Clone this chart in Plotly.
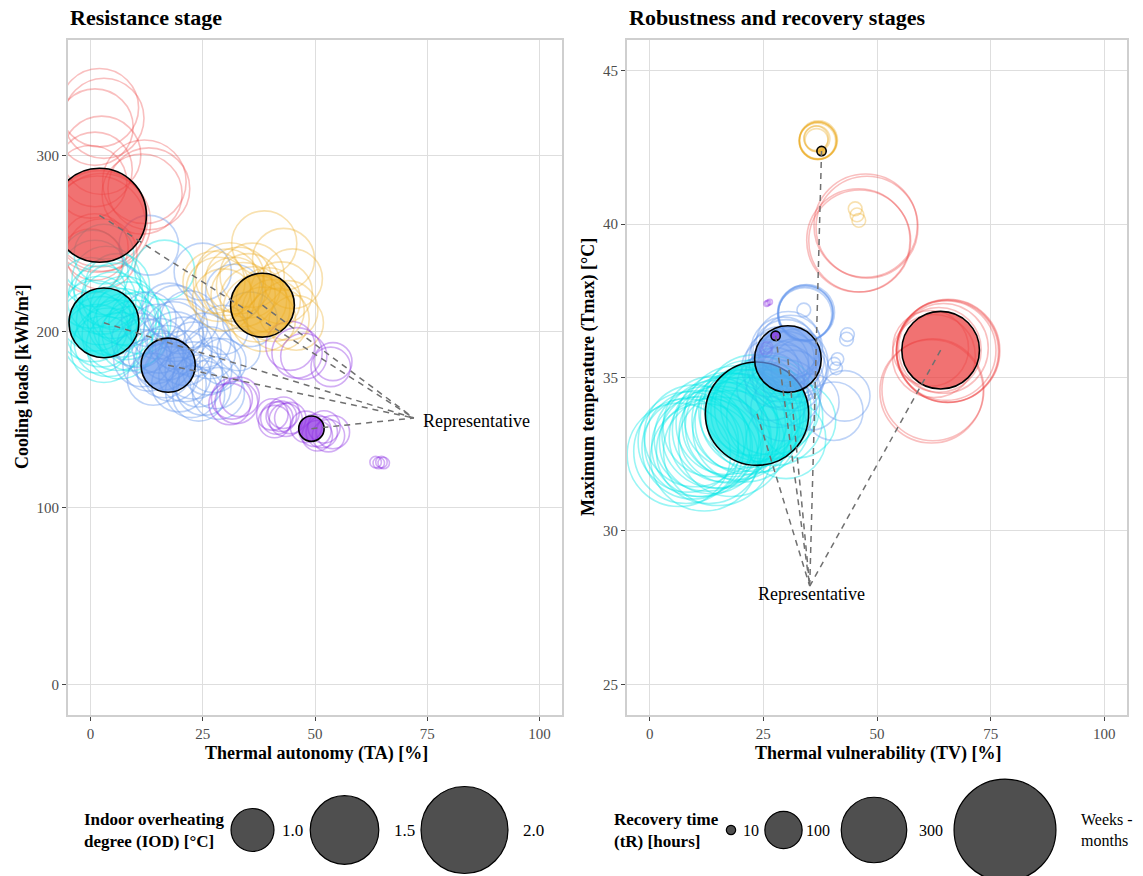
import math
import plotly.graph_objects as go

W, H = 1143, 876
FONT = "Liberation Serif"

# ---------------- data ----------------
# Resistance stage: (thermal autonomy TA %, cooling loads kWh/m2, IOD degC)
res_rep = {
    "red": (2.0, 266, 2.22),
    "cyan": (3.0, 205, 1.53),
    "blue": (17.3, 181, 1.19),
    "orange": (38.3, 215, 1.39),
    "purple": (49.2, 145, 0.79),
}
res_red = [(2.0, 327, 1.75), (3.0, 321, 1.80), (1.0, 316, 1.70), (2.5, 300, 1.75),
           (1.0, 292, 1.65), (0.0, 285, 1.60), (12.0, 285, 1.90), (13.0, 281, 1.85),
           (11.5, 278, 1.80), (2.0, 264, 2.30), (2.5, 262, 2.35), (1.5, 261, 2.30),
           (1.0, 248, 1.45), (2.5, 244, 1.55), (0.0, 240, 1.40)]
res_cyan = [(1.0, 233, 1.45), (3.5, 229, 1.50), (6.0, 226, 1.40), (0.0, 222, 1.55),
            (2.5, 218, 1.50), (5.0, 215, 1.45), (7.5, 212, 1.50), (1.0, 209, 1.55),
            (4.5, 206, 1.50), (8.0, 203, 1.45), (2.5, 200, 1.55), (6.0, 198, 1.55),
            (9.0, 196, 1.40), (4.0, 194, 1.50), (10.0, 199, 1.45), (16.5, 235, 1.30),
            (0.5, 240, 1.35), (3.0, 244, 1.30), (2.0, 212, 1.50), (5.5, 220, 1.45),
            (7.0, 205, 1.50), (3.0, 190, 1.45), (1.5, 196, 1.50), (8.5, 210, 1.40),
            (11.0, 205, 1.35), (6.5, 192, 1.45), (0.5, 203, 1.55), (4.0, 222, 1.50)]
res_blue = [(13.0, 249, 1.30), (25.0, 234, 1.25), (32.0, 222, 1.25), (35.5, 207, 1.20),
            (13.0, 207, 1.20), (17.5, 212, 1.20), (22.0, 207, 1.25), (15.3, 192, 1.20),
            (20.8, 192, 1.25), (25.2, 195, 1.20), (16.4, 178, 1.20), (23.0, 178, 1.25),
            (27.4, 181, 1.20), (19.7, 170, 1.20), (25.2, 168, 1.20), (28.0, 171, 1.15),
            (24.1, 164, 1.15), (28.5, 165, 1.15), (13.0, 181, 1.15), (10.8, 195, 1.20),
            (29.6, 201, 1.10), (33.0, 190, 1.00), (18.5, 200, 1.30), (21.0, 185, 1.20),
            (14.0, 173, 1.15), (26.5, 188, 1.15), (29.5, 183, 1.05), (22.5, 166, 1.15),
            (19.0, 210, 1.25), (11.5, 185, 1.25), (15.0, 200, 1.20), (17.0, 188, 1.20),
            (19.0, 195, 1.25), (21.0, 175, 1.15), (23.0, 190, 1.20), (16.0, 183, 1.25),
            (18.0, 176, 1.20), (24.0, 172, 1.15), (26.0, 178, 1.10), (12.0, 192, 1.20),
            (20.0, 203, 1.20), (14.5, 186, 1.20)]
res_orange = [(38.7, 250, 1.42), (43.0, 241, 1.35), (45.8, 205, 1.20), (28.5, 224, 1.40),
              (30.3, 228, 1.45), (31.9, 224, 1.40), (33.0, 229, 1.45), (34.0, 221, 1.40),
              (29.6, 218, 1.35), (35.2, 226, 1.40), (36.3, 218, 1.45), (39.6, 218, 1.40),
              (40.7, 212, 1.35), (38.5, 207, 1.40), (41.8, 207, 1.35), (44.0, 212, 1.30),
              (31.0, 231, 1.50), (27.5, 228, 1.35), (37.0, 213, 1.45), (42.5, 222, 1.35),
              (45.0, 230, 1.30), (36.0, 232, 1.40)]
res_purple = [(31.5, 162, 0.97), (32.5, 160, 1.00), (33.2, 163, 0.95), (31.0, 159, 0.98),
              (44.5, 192, 1.10), (46.0, 188, 1.12), (47.5, 186, 1.05), (54.0, 183, 0.93),
              (53.5, 180, 0.95), (40.5, 153, 0.85), (41.5, 151, 0.86), (42.5, 152, 0.84),
              (43.5, 150, 0.87), (44.5, 151, 0.85), (41.0, 149, 0.86), (43.0, 154, 0.85),
              (48.0, 146, 0.85), (50.0, 144, 0.86), (51.5, 143, 0.85), (53.0, 141, 0.86),
              (50.5, 141, 0.84), (52.0, 146, 0.86), (54.0, 143, 0.87),
              (63.5, 126, 0.70), (64.2, 125.5, 0.70), (64.8, 126, 0.70), (65.3, 125.5, 0.70)]

# Robustness & recovery: (thermal vulnerability TV %, Tmax degC, recovery time tR hours)
rob_rep = {
    "red": (64.0, 35.89, 420),
    "cyan": (23.6, 33.82, 740),
    "blue": (30.4, 35.60, 310),
    "orange": (37.8, 42.38, 10),
    "purple": (27.7, 36.36, 10),
}
rob_red = [(47.5, 39.95, 740), (47.8, 39.90, 720), (45.9, 39.47, 740), (46.2, 39.45, 720),
           (65.7, 35.87, 736), (65.5, 35.85, 720), (65.6, 35.86, 730), (65.2, 35.88, 690),
           (64.6, 35.95, 560), (63.6, 35.90, 500), (61.8, 35.95, 400), (62.5, 35.70, 480),
           (62.0, 34.55, 740), (62.3, 34.60, 720)]
rob_cyan = [(6.4, 32.48, 740), (8.0, 32.60, 760), (9.5, 32.70, 720), (10.5, 32.85, 780),
            (11.5, 32.75, 700), (12.5, 33.00, 760), (13.5, 32.90, 740), (14.5, 33.15, 800),
            (15.5, 33.05, 720), (16.5, 33.30, 760), (17.5, 33.20, 700), (18.5, 33.45, 740),
            (19.5, 33.40, 780), (20.5, 33.60, 720), (21.5, 33.55, 760), (22.5, 33.75, 740),
            (24.5, 33.90, 700), (25.5, 34.00, 720), (26.5, 34.10, 680), (27.5, 33.70, 640),
            (12.0, 32.40, 800), (15.0, 32.60, 820), (18.0, 32.85, 780),
            (22.0, 33.90, 720), (23.0, 34.10, 700), (24.0, 33.60, 740), (19.0, 33.70, 740),
            (21.0, 33.30, 760), (17.0, 33.50, 720), (14.0, 33.40, 700), (10.0, 33.10, 720),
            (8.5, 32.90, 700), (13.0, 32.60, 760),
            (32.7, 33.60, 390), (30.0, 33.00, 440)]
rob_blue = [(34.3, 37.10, 213), (34.1, 37.05, 205), (34.5, 37.12, 220), (34.3, 37.08, 210),
            (34.2, 37.11, 215), (29.5, 35.90, 300), (31.0, 36.00, 280), (30.0, 35.40, 320),
            (28.5, 35.20, 260), (32.0, 35.50, 300), (27.5, 35.00, 250), (29.3, 33.98, 290),
            (26.6, 34.70, 320), (31.5, 34.90, 260), (33.0, 35.30, 230), (26.5, 35.30, 230),
            (28.0, 34.40, 280), (30.5, 34.50, 300), (30.0, 35.80, 310), (31.2, 35.60, 300),
            (29.0, 35.60, 300), (30.5, 36.10, 290), (28.0, 35.50, 280), (31.8, 35.20, 290),
            (29.8, 35.00, 300),
            (33.9, 37.20, 17), (43.5, 36.40, 17), (43.3, 36.25, 17), (41.3, 35.60, 15),
            (40.6, 35.45, 15), (41.0, 35.30, 15), (42.9, 34.40, 180), (40.5, 33.90, 240),
            (35.5, 34.20, 220)]
rob_orange = [(37.0, 42.72, 100), (36.9, 42.70, 95), (37.1, 42.74, 105), (37.0, 42.71, 100),
              (37.05, 42.73, 98), (36.6, 42.80, 45), (36.8, 42.78, 50), (36.7, 42.74, 40),
              (45.2, 40.50, 17), (45.6, 40.30, 17), (46.0, 40.12, 17)]
rob_purple = [(25.7, 37.40, 6), (26.0, 37.43, 6), (26.4, 37.46, 6), (25.5, 35.95, 14),
              (25.9, 36.00, 12), (25.7, 35.85, 13)]

# label anchor points ("Representative")
res_label = (73.5, 149.5)
res_line_end = (72.0, 151.0)
rob_label = (35.6, 27.95)
rob_line_end = (35.2, 28.2)

# legend keys
iod_keys = [1.0, 1.5, 2.0]
iod_key_labels = ["1.0", "1.5", "2.0"]
tr_keys = [10, 100, 300, 720]
tr_key_labels = ["10", "100", "300", "Weeks -<br>months"]

# ---------------- styles ----------------
COLORS = {
    "red": (236, 60, 60),
    "cyan": (0, 229, 229),
    "blue": (100, 149, 237),
    "orange": (236, 170, 28),
    "purple": (138, 43, 226),
}
HOLLOW_ALPHA = {"red": 0.33, "cyan": 0.40, "blue": 0.42, "orange": 0.35, "purple": 0.38}


def rgba(c, a):
    return "rgba(%d,%d,%d,%.3f)" % (c[0], c[1], c[2], a)


def iod_px(v):
    return 75.6 * math.sqrt(max(v - 0.677, 0.0))


def tr_px(v):
    return math.sqrt(max(14.5 * (v - 4.0), 4.0))


fig = go.Figure()


def hollow(points, cname, xa, ya, scale):
    fig.add_trace(go.Scatter(
        x=[p[0] for p in points], y=[p[1] for p in points], mode="markers",
        marker=dict(size=[scale(p[2]) for p in points], color="rgba(0,0,0,0)", opacity=1,
                    line=dict(color=rgba(COLORS[cname], HOLLOW_ALPHA[cname]), width=1.6)),
        xaxis=xa, yaxis=ya, cliponaxis=True, hoverinfo="skip", showlegend=False))


def reps(rep, xa, ya, scale):
    names = list(rep.keys())
    fig.add_trace(go.Scatter(
        x=[rep[n][0] for n in names], y=[rep[n][1] for n in names], mode="markers",
        marker=dict(size=[scale(rep[n][2]) for n in names], opacity=1,
                    color=[rgba(COLORS[n], 0.72) for n in names],
                    line=dict(color="black", width=1.6)),
        xaxis=xa, yaxis=ya, cliponaxis=True, hoverinfo="skip", showlegend=False))


def rep_lines(rep, end, xa, ya):
    for n in rep:
        fig.add_trace(go.Scatter(
            x=[rep[n][0], end[0]], y=[rep[n][1], end[1]], mode="lines",
            line=dict(color="#707070", width=1.5, dash="6px,5px"),
            xaxis=xa, yaxis=ya, hoverinfo="skip", showlegend=False))


# left panel
hollow(res_red, "red", "x", "y", iod_px)
hollow(res_cyan, "cyan", "x", "y", iod_px)
hollow(res_blue, "blue", "x", "y", iod_px)
hollow(res_orange, "orange", "x", "y", iod_px)
hollow(res_purple, "purple", "x", "y", iod_px)
reps(res_rep, "x", "y", iod_px)
rep_lines(res_rep, res_line_end, "x", "y")

# right panel
hollow(rob_red, "red", "x2", "y2", tr_px)
hollow(rob_cyan, "cyan", "x2", "y2", tr_px)
hollow(rob_blue, "blue", "x2", "y2", tr_px)
hollow(rob_orange, "orange", "x2", "y2", tr_px)
hollow(rob_purple, "purple", "x2", "y2", tr_px)
reps(rob_rep, "x2", "y2", tr_px)
rep_lines(rob_rep, rob_line_end, "x2", "y2")

# legend keys (bottom strip, pixel-like coordinates)
iod_key_x = [252.5, 344.5, 464.5]
iod_lab_x = [280, 392, 521]
tr_key_x = [731, 783.5, 874, 1005]
tr_lab_x = [741, 804, 917, 1079]
key_y = 46
fig.add_trace(go.Scatter(
    x=iod_key_x, y=[key_y] * 3, mode="markers",
    marker=dict(size=[iod_px(v) for v in iod_keys], color="#4F4F4F", opacity=1,
                line=dict(color="black", width=1.2)),
    xaxis="x3", yaxis="y3", cliponaxis=False, hoverinfo="skip", showlegend=False))
fig.add_trace(go.Scatter(
    x=tr_key_x, y=[key_y] * 4, mode="markers",
    marker=dict(size=[tr_px(v) for v in tr_keys], color="#4F4F4F", opacity=1,
                line=dict(color="black", width=1.2)),
    xaxis="x3", yaxis="y3", cliponaxis=False, hoverinfo="skip", showlegend=False))

annotations = []
for xv, t in zip(iod_lab_x, iod_key_labels):
    annotations.append(dict(x=xv, y=key_y, xref="x3", yref="y3", text=t, showarrow=False,
                            xanchor="left", yanchor="middle", align="left",
                            font=dict(family=FONT, size=17, color="black")))
for xv, t in zip(tr_lab_x, tr_key_labels):
    annotations.append(dict(x=xv, y=key_y, xref="x3", yref="y3", text=t, showarrow=False,
                            xanchor="left", yanchor="middle", align="left",
                            font=dict(family=FONT, size=16, color="black")))
annotations.append(dict(x=82, y=key_y, xref="x3", yref="y3",
                        text="<b>Indoor overheating<br>degree (IOD) [°C]</b>", showarrow=False,
                        xanchor="left", yanchor="middle", align="left",
                        font=dict(family=FONT, size=17, color="black")))
annotations.append(dict(x=612, y=key_y, xref="x3", yref="y3",
                        text="<b>Recovery time<br>(tR) [hours]</b>", showarrow=False,
                        xanchor="left", yanchor="middle", align="left",
                        font=dict(family=FONT, size=17, color="black")))

# representative labels
annotations.append(dict(x=res_label[0], y=res_label[1], xref="x", yref="y", text="Representative",
                        showarrow=False, xanchor="left", yanchor="middle",
                        font=dict(family=FONT, size=18, color="black")))
annotations.append(dict(x=rob_label[0], y=rob_label[1], xref="x2", yref="y2", text="Representative",
                        showarrow=False, xanchor="center", yanchor="middle",
                        font=dict(family=FONT, size=18, color="black")))

# titles
annotations.append(dict(x=68 / W, y=1 - 17 / H, xref="paper", yref="paper",
                        text="<b>Resistance stage</b>", showarrow=False, xanchor="left",
                        yanchor="middle", font=dict(family=FONT, size=22, color="black")))
annotations.append(dict(x=627 / W, y=1 - 17 / H, xref="paper", yref="paper",
                        text="<b>Robustness and recovery stages</b>", showarrow=False,
                        xanchor="left", yanchor="middle", font=dict(family=FONT, size=22, color="black")))
# axis titles
annotations.append(dict(x=316 / W, y=1 - 753 / H, xref="paper", yref="paper",
                        text="<b>Thermal autonomy (TA) [%]</b>", showarrow=False,
                        xanchor="center", yanchor="middle", font=dict(family=FONT, size=18, color="black")))
annotations.append(dict(x=878 / W, y=1 - 753 / H, xref="paper", yref="paper",
                        text="<b>Thermal vulnerability (TV) [%]</b>", showarrow=False,
                        xanchor="center", yanchor="middle", font=dict(family=FONT, size=18, color="black")))
annotations.append(dict(x=22 / W, y=1 - 377 / H, xref="paper", yref="paper",
                        text="<b>Cooling loads [kWh/m²]</b>", showarrow=False, textangle=-90,
                        xanchor="center", yanchor="middle", font=dict(family=FONT, size=18, color="black")))
annotations.append(dict(x=588 / W, y=1 - 377 / H, xref="paper", yref="paper",
                        text="<b>Maximum temperature (Tmax) [°C]</b>", showarrow=False, textangle=-90,
                        xanchor="center", yanchor="middle", font=dict(family=FONT, size=18, color="black")))

axis_common = dict(showgrid=True, gridcolor="#DEDEDE", gridwidth=1.2, zeroline=False,
                   showline=True, linecolor="#CFCFCF", linewidth=2, mirror=True,
                   ticks="outside", ticklen=4, tickwidth=1, tickcolor="#444444",
                   tickfont=dict(family=FONT, size=15, color="#4D4D4D"))

ydom = [1 - 715 / H, 1 - 40 / H]
fig.update_layout(
    width=W, height=H, margin=dict(l=0, r=0, t=0, b=0),
    paper_bgcolor="white", plot_bgcolor="white", showlegend=False,
    xaxis=dict(domain=[68 / W, 562 / W], range=[-5, 105], tickvals=[0, 25, 50, 75, 100],
               anchor="y", **axis_common),
    yaxis=dict(domain=ydom, range=[-17.4, 365.4], tickvals=[0, 100, 200, 300],
               anchor="x", **axis_common),
    xaxis2=dict(domain=[627 / W, 1127 / W], range=[-5, 105], tickvals=[0, 25, 50, 75, 100],
                anchor="y2", **axis_common),
    yaxis2=dict(domain=ydom, range=[24, 46], tickvals=[25, 30, 35, 40, 45],
                anchor="x2", **axis_common),
    xaxis3=dict(domain=[0, 1], range=[0, W], visible=False, anchor="y3", fixedrange=True),
    yaxis3=dict(domain=[0, 110 / H], range=[0, 110], visible=False, anchor="x3", fixedrange=True),
    annotations=annotations,
    font=dict(family=FONT),
)

fig.write_html("out.html", config={"displayModeBar": False},
               post_script="document.body.style.margin='0';document.body.style.overflow='hidden';")
